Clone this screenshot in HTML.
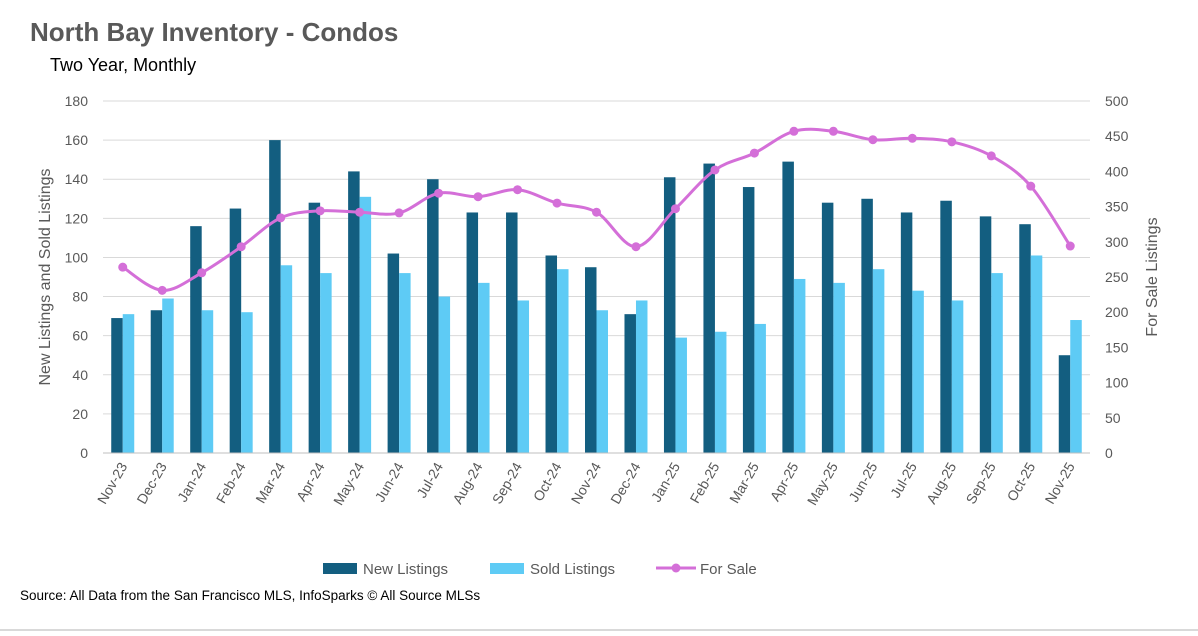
<!DOCTYPE html>
<html><head><meta charset="utf-8"><style>
body{margin:0;background:#fff;font-family:"Liberation Sans",sans-serif;}
#wrap{position:relative;width:1198px;height:636px;overflow:hidden;background:#fff}
</style></head><body>
<div id="wrap">
<svg id="chart" width="1198" height="636"></svg>
</div>
<script>
const categories=["Nov-23","Dec-23","Jan-24","Feb-24","Mar-24","Apr-24","May-24","Jun-24","Jul-24","Aug-24","Sep-24","Oct-24","Nov-24","Dec-24","Jan-25","Feb-25","Mar-25","Apr-25","May-25","Jun-25","Jul-25","Aug-25","Sep-25","Oct-25","Nov-25"];
const newListings=[69,73,116,125,160,128,144,102,140,123,123,101,95,71,141,148,136,149,128,130,123,129,121,117,50];
const soldListings=[71,79,73,72,96,92,131,92,80,87,78,94,73,78,59,62,66,89,87,94,83,78,92,101,68];
const forSale=[264,231,256,293,334,344,342,341,369,364,374,355,342,293,347,402,426,457,457,445,447,442,422,379,294];
const leftTicks=[0,20,40,60,80,100,120,140,160,180];
const rightTicks=[0,50,100,150,200,250,300,350,400,450,500];

const NS="http://www.w3.org/2000/svg";
const svg=document.getElementById('chart');
function mk(tag,attrs,parent){const e=document.createElementNS(NS,tag);for(const k in attrs)e.setAttribute(k,attrs[k]);(parent||svg).appendChild(e);return e;}
const X0=103,X1=1090,Y0=453,Y1=101;
const band=(X1-X0)/categories.length;
const xC=i=>X0+band*(i+0.5);
const yL=v=>Y0-(v/180)*(Y0-Y1);
const yR=v=>Y0-(v/500)*(Y0-Y1);

let t=mk('text',{x:30,y:41,'font-size':26,'font-weight':'bold',fill:'#595959'});
t.textContent='North Bay Inventory - Condos';
t=mk('text',{x:50,y:71,'font-size':18,fill:'#000'});
t.textContent='Two Year, Monthly';

leftTicks.forEach(v=>{
  const g=mk('line',{x1:X0,x2:X1,y1:yL(v),y2:yL(v),stroke:'#d9d9d9','stroke-width':1});
  
  const l=mk('text',{x:88,y:yL(v)+5,'font-size':14,fill:'#595959','text-anchor':'end'});
  l.textContent=v;
});
rightTicks.forEach(v=>{
  const l=mk('text',{x:1105,y:yR(v)+5,'font-size':14,fill:'#595959'});
  l.textContent=v;
});
let a=mk('text',{transform:'translate(50,277) rotate(-90)','font-size':16,fill:'#595959','text-anchor':'middle'});
a.textContent='New Listings and Sold Listings';
a=mk('text',{transform:'translate(1157,277) rotate(-90)','font-size':16,fill:'#595959','text-anchor':'middle'});
a.textContent='For Sale Listings';

const bw=11.5;
categories.forEach((c,i)=>{
  const cx=xC(i);
  let r=mk('rect',{x:cx-bw,y:yL(newListings[i]),width:bw,height:Y0-yL(newListings[i]),fill:'#135e80'});
  
  r=mk('rect',{x:cx,y:yL(soldListings[i]),width:bw,height:Y0-yL(soldListings[i]),fill:'#5ecbf5'});
  
  const l=mk('text',{transform:`translate(${cx+5},466) rotate(-60)`,'font-size':14,fill:'#595959','text-anchor':'end'});
  l.textContent=c;
});
let ax=mk('line',{x1:X0,x2:X1,y1:Y0,y2:Y0,stroke:'#bfbfbf','stroke-width':1});


const pts=forSale.map((v,i)=>[xC(i),yR(v)]);
let d=`M${pts[0][0]},${pts[0][1]}`;
for(let i=0;i<pts.length-1;i++){
  const p0=pts[i-1]||pts[i],p1=pts[i],p2=pts[i+1],p3=pts[i+2]||p2;
  const c1=[p1[0]+(p2[0]-p0[0])/6,p1[1]+(p2[1]-p0[1])/6];
  const c2=[p2[0]-(p3[0]-p1[0])/6,p2[1]-(p3[1]-p1[1])/6];
  d+=` C${c1[0]},${c1[1]} ${c2[0]},${c2[1]} ${p2[0]},${p2[1]}`;
}
const ln=mk('path',{d:d,fill:'none',stroke:'#d46fd8','stroke-width':3});

pts.forEach(p=>{
  const m=mk('circle',{cx:p[0],cy:p[1],r:4.5,fill:'#d46fd8'});
  
});

// legend
let s=mk('rect',{x:323,y:563,width:34,height:11,fill:'#135e80'});

t=mk('text',{x:363,y:574,'font-size':15,fill:'#595959'});t.textContent='New Listings';
s=mk('rect',{x:490,y:563,width:34,height:11,fill:'#5ecbf5'});

t=mk('text',{x:530,y:574,'font-size':15,fill:'#595959'});t.textContent='Sold Listings';
s=mk('line',{x1:656,x2:696,y1:568,y2:568,stroke:'#d46fd8','stroke-width':3});

s=mk('circle',{cx:676,cy:568,r:4.5,fill:'#d46fd8'});

t=mk('text',{x:700,y:574,'font-size':15,fill:'#595959'});t.textContent='For Sale';

t=mk('text',{x:20,y:600,'font-size':13.5,fill:'#000'});
t.textContent='Source: All Data from the San Francisco MLS, InfoSparks © All Source MLSs';
s=mk('line',{x1:0,x2:1198,y1:630,y2:630,stroke:'#d9d9d9','stroke-width':2});

</script>
</body></html>
